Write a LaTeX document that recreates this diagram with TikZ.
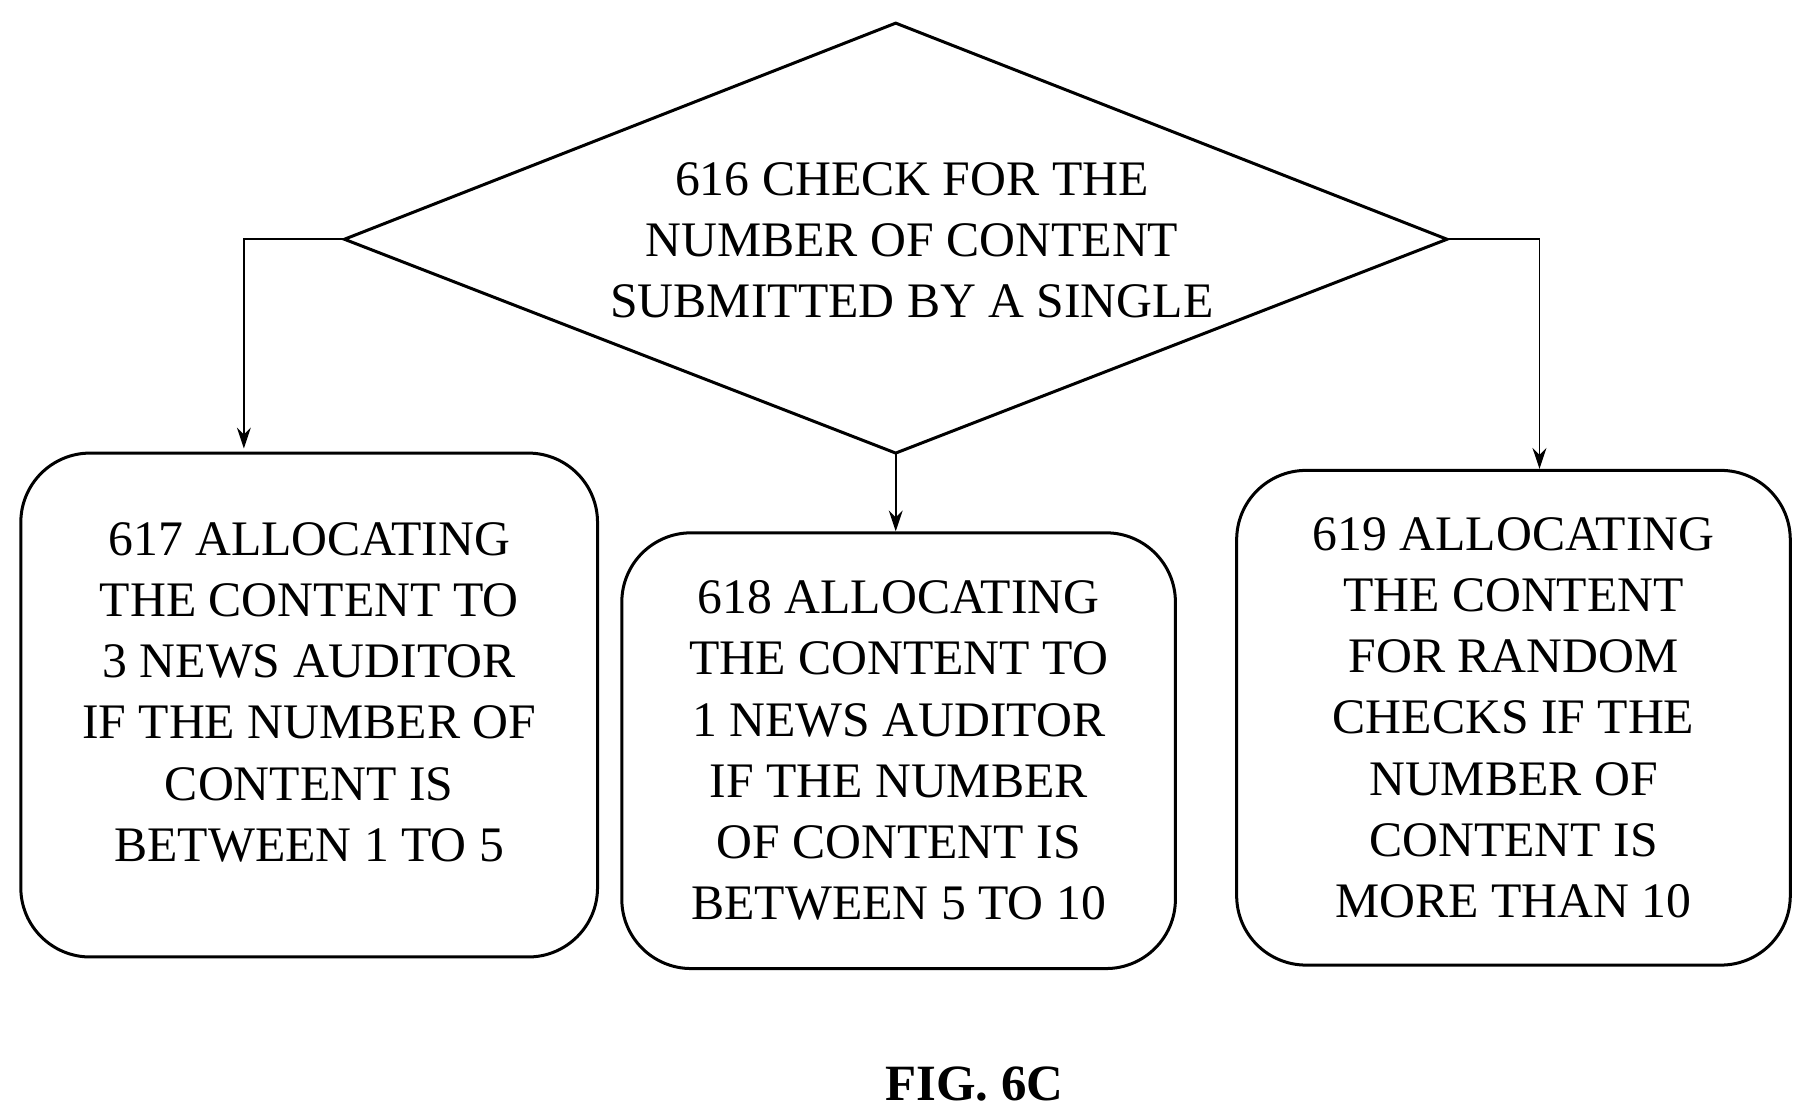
\documentclass[tikz,border=0pt]{standalone}
\usepackage{fontspec}
\setmainfont{Liberation Serif}
\usetikzlibrary{arrows.meta}
\begin{document}
\begin{tikzpicture}[x=0.5pt,y=-0.5pt,
  box/.style={draw,line width=1.3pt,rounded corners=30pt,align=center,inner sep=0pt,
    font=\fontsize{21.5}{26.5}\selectfont},
  txt/.style={align=center,inner sep=0pt,font=\fontsize{21.5}{26.5}\selectfont},
  arr/.style={line width=0.8pt,-{Stealth[length=9pt,width=6pt]}}]
\useasboundingbox (0,0) rectangle (1560,966);
\coordinate (dt) at (775,20);
\coordinate (dl) at (298,207);
\coordinate (dr) at (1252,207);
\coordinate (db) at (775,392);
\draw[line width=1.3pt] (dt)--(dr)--(db)--(dl)--cycle;
\node[txt] (d) at (789,208) {616 CHECK FOR THE\\NUMBER OF CONTENT\\SUBMITTED BY A SINGLE};
\node[box,minimum width=249.5pt,minimum height=218pt] (b1) at (267.5,610)
  {617 ALLOCATING\\THE CONTENT TO\\3 NEWS AUDITOR\\IF THE NUMBER OF\\CONTENT IS\\BETWEEN 1 TO 5\\[-15pt]\mbox{}};
\node[box,minimum width=239.5pt,minimum height=188.5pt] (b2) at (777.5,649.5)
  {618 ALLOCATING\\THE CONTENT TO\\1 NEWS AUDITOR\\IF THE NUMBER\\OF CONTENT IS\\BETWEEN 5 TO 10};
\node[box,minimum width=239.5pt,minimum height=214pt] (b3) at (1309.5,621)
  {619 ALLOCATING\\THE CONTENT\\FOR RANDOM\\CHECKS IF THE\\NUMBER OF\\CONTENT IS\\MORE THAN 10};
\draw[arr] (dl) -- (211,207) -- (211,388);
\draw[arr] (db) -- (db |- b2.north);
\draw[arr] (dr) -- (1332,207) -- (b3.north -| 1332,0);
\node[txt,font=\fontsize{22}{26}\selectfont\bfseries] (fig) at (843,938) {FIG. 6C};
\end{tikzpicture}
\end{document}
